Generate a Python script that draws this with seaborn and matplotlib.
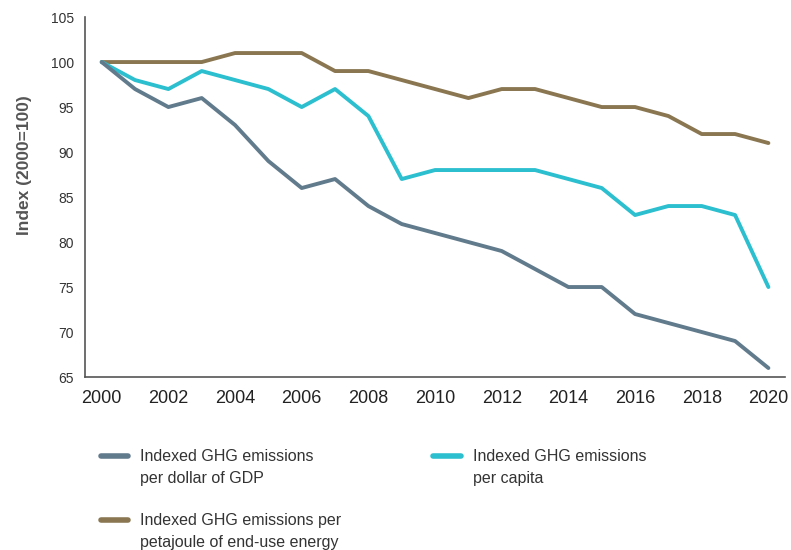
import pandas as pd
import seaborn as sns
import matplotlib.pyplot as plt
from matplotlib.lines import Line2D
from matplotlib.legend_handler import HandlerLine2D

years = list(range(2000, 2021))
per_gdp = [100, 97, 95, 96, 93, 89, 86, 87, 84, 82, 81, 80, 79, 77, 75, 75, 72, 71, 70, 69, 66]
per_capita = [100, 98, 97, 99, 98, 97, 95, 97, 94, 87, 88, 88, 88, 88, 87, 86, 83, 84, 84, 83, 75]
per_energy = [100, 100, 100, 100, 101, 101, 101, 99, 99, 98, 97, 96, 97, 97, 96, 95, 95, 94, 92, 92, 91]

labels = {
    "gdp": "Indexed GHG emissions\nper dollar of GDP",
    "capita": "Indexed GHG emissions\nper capita",
    "energy": "Indexed GHG emissions per\npetajoule of end-use energy",
}
colors = {"gdp": "#617b8d", "capita": "#2bbfcf", "energy": "#8a7751"}

df = pd.concat([
    pd.DataFrame({"year": years, "index": per_gdp, "series": "gdp"}),
    pd.DataFrame({"year": years, "index": per_capita, "series": "capita"}),
    pd.DataFrame({"year": years, "index": per_energy, "series": "energy"}),
])

sns.set_style("white")
plt.rcParams['font.family'] = ['Liberation Sans', 'DejaVu Sans']
plt.rcParams['text.color'] = '#333333'

fig = plt.figure(figsize=(7.91, 5.5), dpi=100)
ax = fig.add_axes([0.1075, 0.3145, 0.885, 0.6545])

sns.lineplot(data=df, x="year", y="index", hue="series", palette=colors,
             hue_order=["energy", "capita", "gdp"], linewidth=2.8, legend=False, ax=ax)

ax.set_xlim(1999.5, 2020.5)
ax.set_ylim(65, 105)
ax.set_xticks(range(2000, 2021, 2))
ax.set_xticks([y - 0.5 for y in range(2000, 2022)], minor=True)
ax.set_yticks(range(65, 106, 5))
ax.tick_params(axis="x", which="major", length=0, labelsize=13, pad=9, labelcolor="#222222")
ax.tick_params(axis="x", which="minor", direction="in", length=6, width=1.2, color="#555555")
ax.tick_params(axis="y", direction="in", length=12, width=1.2, color="#555555",
               labelsize=10, pad=8, labelcolor="#333333")
for s in ["top", "right"]:
    ax.spines[s].set_visible(False)
for s in ["left", "bottom"]:
    ax.spines[s].set_color("#555555")
    ax.spines[s].set_linewidth(1.2)
ax.set_xlabel("")
ax.set_ylabel("Index (2000=100)", fontsize=12.5, fontweight="bold", color="#555555")
ax.yaxis.set_label_coords(-0.076, 0.589)


class TopLine(HandlerLine2D):
    # put the legend swatch next to the first text line
    def create_artists(self, legend, orig_handle, xdescent, ydescent, width, height, fontsize, trans):
        return super().create_artists(legend, orig_handle, xdescent, ydescent, width,
                                      height + fontsize * 1.55, fontsize, trans)


order = ["gdp", "energy", "capita"]
handles = [Line2D([], [], color=colors[k], linewidth=4) for k in order]
leg = fig.legend(handles, [labels[k] for k in order], ncol=2, loc="upper left",
                 bbox_to_anchor=(0.109, 0.21), frameon=False, fontsize=11.5,
                 handlelength=1.7, handletextpad=0.75, columnspacing=5.8,
                 labelspacing=1.7, handler_map={Line2D: TopLine()})
for t in leg.get_texts():
    t.set_color("#333333")
    t.set_linespacing(1.6)

fig.savefig("out.png", dpi=100)
